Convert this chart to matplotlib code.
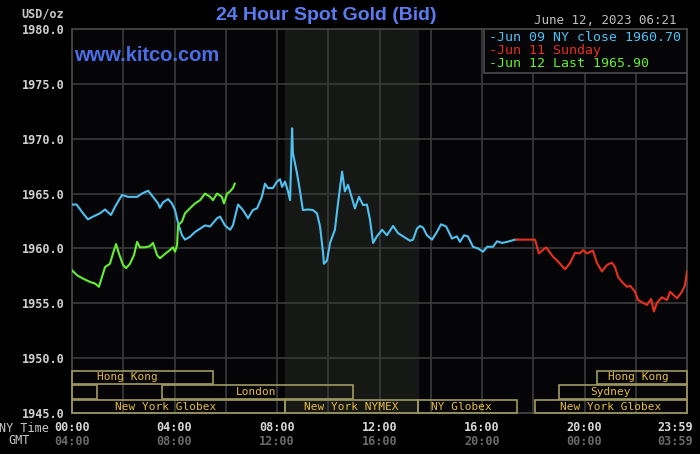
import matplotlib.pyplot as plt
from matplotlib.patches import Rectangle
import matplotlib.transforms as mtransforms

# hours since 00:00 NY time
jun09_t = [0.00, 0.18, 0.43, 0.62, 0.82, 1.09, 1.29, 1.40, 1.52, 1.68, 1.95, 2.19, 2.54, 2.73, 2.97,
           3.16, 3.36, 3.43, 3.55, 3.75, 3.90, 4.02, 4.14, 4.29, 4.41, 4.60, 4.80, 5.00, 5.19, 5.39,
           5.66, 5.78, 5.97, 6.17, 6.28, 6.48, 6.67, 6.87, 7.06, 7.22, 7.41, 7.53, 7.65, 7.84, 8.00,
           8.12, 8.20, 8.31, 8.43, 8.51, 8.59, 8.62, 8.78, 8.90, 9.01, 9.21, 9.40, 9.56, 9.68, 9.80,
           9.83, 9.95, 10.07, 10.26, 10.38, 10.54, 10.65, 10.77, 10.93, 11.04, 11.20, 11.36, 11.51,
           11.63, 11.75, 11.90, 12.10, 12.29, 12.53, 12.72, 12.92, 13.19, 13.31, 13.46, 13.58, 13.70,
           13.85, 14.05, 14.24, 14.40, 14.60, 14.83, 15.02, 15.14, 15.30, 15.45, 15.65, 15.84, 16.04,
           16.20, 16.43, 16.59, 16.78, 16.98, 17.29, 17.33]
jun09_v = [1964.0, 1964.0, 1963.2, 1962.65, 1962.9, 1963.2, 1963.55, 1963.3, 1963.05, 1963.8, 1964.87,
           1964.7, 1964.7, 1965.0, 1965.26, 1964.7, 1964.1, 1963.7, 1964.2, 1964.5, 1964.1, 1963.5,
           1962.3, 1961.2, 1960.8, 1961.05, 1961.5, 1961.8, 1962.1, 1962.0, 1962.75, 1962.9, 1962.1,
           1961.7, 1962.1, 1964.0, 1963.5, 1962.75, 1963.5, 1963.65, 1964.7, 1965.9, 1965.5, 1965.5,
           1966.1, 1966.3, 1965.6, 1966.1, 1965.2, 1964.4, 1970.95, 1968.7, 1966.85, 1965.2, 1963.5,
           1963.55, 1963.5, 1963.2, 1962.0, 1959.55, 1958.6, 1958.9, 1960.5, 1961.7, 1964.1, 1967.0,
           1965.2, 1965.8, 1964.55, 1963.65, 1964.7, 1963.95, 1964.0, 1962.6, 1960.5, 1961.1, 1961.7,
           1961.2, 1962.05, 1961.4, 1961.1, 1960.7, 1960.8, 1961.8, 1962.05, 1961.9, 1961.2, 1960.8,
           1961.5, 1962.2, 1962.0, 1960.9, 1961.1, 1960.6, 1961.2, 1961.1, 1960.15, 1960.0, 1959.7,
           1960.15, 1960.15, 1960.65, 1960.5, 1960.6, 1960.8, 1960.8]

jun11_t = [17.33, 18.07, 18.22, 18.50, 18.77, 18.97, 19.24, 19.43, 19.63, 19.82, 19.94, 20.10, 20.33,
           20.49, 20.68, 20.88, 21.07, 21.19, 21.31, 21.46, 21.66, 21.78, 21.97, 22.09, 22.28, 22.44,
           22.60, 22.71, 22.83, 23.02, 23.22, 23.34, 23.45, 23.61, 23.80, 23.92, 24.0]
jun11_v = [1960.8, 1960.8, 1959.55, 1960.1, 1959.25, 1958.8, 1958.1, 1958.65, 1959.6, 1959.55, 1959.85,
           1959.55, 1959.8, 1958.65, 1957.9, 1958.5, 1958.7, 1958.3, 1957.4, 1956.95, 1956.5, 1956.6,
           1956.05, 1955.3, 1955.05, 1954.85, 1955.4, 1954.25, 1955.05, 1955.55, 1955.3, 1956.05,
           1955.8, 1955.45, 1956.05, 1956.65, 1957.9]

jun12_t = [0.00, 0.20, 0.43, 0.70, 0.90, 1.05, 1.17, 1.29, 1.48, 1.60, 1.72, 1.83, 1.99, 2.11, 2.26,
           2.42, 2.54, 2.65, 2.85, 3.04, 3.16, 3.32, 3.43, 3.63, 3.82, 3.94, 4.02, 4.10, 4.14, 4.29,
           4.41, 4.60, 4.80, 5.00, 5.19, 5.39, 5.50, 5.66, 5.85, 5.93, 6.05, 6.17, 6.28, 6.35]
jun12_v = [1958.0, 1957.55, 1957.25, 1956.95, 1956.8, 1956.5, 1957.4, 1958.3, 1958.6, 1959.55, 1960.4,
           1959.55, 1958.5, 1958.2, 1958.6, 1959.4, 1960.6, 1960.1, 1960.1, 1960.2, 1960.5, 1959.4,
           1959.1, 1959.5, 1959.85, 1960.1, 1959.7, 1960.3, 1962.1, 1962.45, 1963.2, 1963.65, 1964.1,
           1964.4, 1965.0, 1964.7, 1964.4, 1965.0, 1964.7, 1964.1, 1965.0, 1965.2, 1965.5, 1965.9]

legend_labels = ["Jun 09 NY close 1960.70", "Jun 11 Sunday", "Jun 12 Last 1965.90"]

# market sessions: name, start, end, row (0 = bottom), label x
sess_names = ["Hong Kong", "", "London", "New York Globex", "New York NYMEX", "NY Globex",
              "New York Globex", "Sydney", "Hong Kong"]
sess_start = [0.0, 0.0, 3.5, 0.0, 8.33, 13.5, 18.07, 19.0, 20.5]
sess_end = [5.5, 0.98, 10.97, 8.33, 13.5, 17.37, 24.0, 24.0, 24.0]
sess_row = [2, 1, 1, 0, 0, 0, 0, 1, 2]
sess_lab_x = [2.15, 0, 7.2, 3.67, 10.9, 15.2, 21.0, 21.0, 22.1]

ny_ticks = ["00:00", "04:00", "08:00", "12:00", "16:00", "20:00", "23:59"]
gmt_ticks = ["04:00", "08:00", "12:00", "16:00", "20:00", "00:00", "03:59"]
tick_pos = [0, 4, 8, 12, 16, 20, 23.53]

fig = plt.figure(figsize=(7, 4.54), dpi=100, facecolor="black")
ax = fig.add_axes([72 / 700, 41 / 454, 615 / 700, 384 / 454])
ax.set_facecolor("#050507")
ax.set_xlim(0, 24)
ax.set_ylim(1945, 1980)

ax.axvspan(8.33, 13.5, color="#161816", zorder=0)
for h in range(2, 24, 2):
    ax.axvline(h, color="#3a3a3a", lw=1.2, zorder=1)
for v in range(1950, 1980, 5):
    ax.axhline(v, color="#3a3a3a", lw=1.2, zorder=1)

for s in ax.spines.values():
    s.set_color("#4a4a4a")
    s.set_linewidth(1.2)

ax.set_yticks(range(1945, 1981, 5))
ax.set_yticklabels([f"{v:.1f}" for v in range(1945, 1981, 5)], family="DejaVu Sans Mono",
                   fontsize=8.5, fontweight="bold", color="#d0d0d0")
ax.tick_params(axis="y", length=0, pad=5)
ax.set_xticks([])

ax.plot(jun09_t, jun09_v, color="#4fc0f0", lw=1.5, zorder=4)
ax.plot(jun11_t, jun11_v, color="#e8301e", lw=1.5, zorder=4)
ax.plot(jun12_t, jun12_v, color="#66ee33", lw=1.5, zorder=4)

# session boxes
row_lo = [1945.0, 1946.27, 1947.64]
row_hi = [1946.18, 1947.55, 1948.85]
for name, a, b, r, lx in zip(sess_names, sess_start, sess_end, sess_row, sess_lab_x):
    ax.add_patch(Rectangle((a, row_lo[r]), b - a, row_hi[r] - row_lo[r], fill=False,
                           edgecolor="#a09a60", lw=1.2, zorder=3, clip_on=False))
    if name:
        ax.text(lx, (row_lo[r] + row_hi[r]) / 2, name, family="DejaVu Sans Mono", fontsize=8,
                color="#e6bc3c", ha="center", va="center", zorder=5)

# legend box
ax.add_patch(Rectangle((0.67, 0.885), 0.33, 0.115, transform=ax.transAxes, facecolor="#050507",
                       edgecolor="#4a4a4a", lw=1.2, zorder=6))
leg_colors = ["#4fc0f0", "#e8301e", "#66ee33"]
for i, (lab, c) in enumerate(zip(legend_labels, leg_colors)):
    ax.text(0.678, 0.979 - i * 0.035, "-" + lab, transform=ax.transAxes, family="DejaVu Sans Mono",
            fontsize=9.5, color=c, ha="left", va="center", zorder=7)

# x labels
trans = mtransforms.blended_transform_factory(ax.transData, ax.transAxes)
for p, a, b in zip(tick_pos, ny_ticks, gmt_ticks):
    ax.text(p, -0.037, a, transform=trans, family="DejaVu Sans Mono", fontsize=8.5,
            fontweight="bold", color="#d8d8d8", ha="center", va="center")
    ax.text(p, -0.073, b, transform=trans, family="DejaVu Sans Mono", fontsize=8.5,
            fontweight="bold", color="#6a6a6a", ha="center", va="center")
fig.text(24 / 700, 1 - 428 / 454, "NY Time", family="DejaVu Sans Mono", fontsize=8.5,
         color="#c8c8c8", ha="center", va="center")
fig.text(19 / 700, 1 - 441 / 454, "GMT", family="DejaVu Sans Mono", fontsize=8.5,
         color="#c8c8c8", ha="center", va="center")

fig.text(43 / 700, 1 - 14 / 454, "USD/oz", family="DejaVu Sans Mono", fontsize=8.5,
         fontweight="bold", color="#c8c8c8", ha="center", va="center")
fig.text(326 / 700, 1 - 16 / 454, "24 Hour Spot Gold (Bid)", family="Liberation Sans", fontsize=14,
         fontweight="bold", color="#5b7cf0", ha="center", va="center")
fig.text(676 / 700, 1 - 21 / 454, "June 12, 2023 06:21", family="DejaVu Sans Mono", fontsize=9,
         color="#c0c0c0", ha="right", va="center")
ax.text(0.004, 0.93, "www.kitco.com", transform=ax.transAxes, family="Liberation Sans",
        fontsize=14.5, fontweight="bold", color="#4a6ee8", ha="left", va="center", zorder=7)

fig.savefig("out.png", dpi=100, facecolor="black")
